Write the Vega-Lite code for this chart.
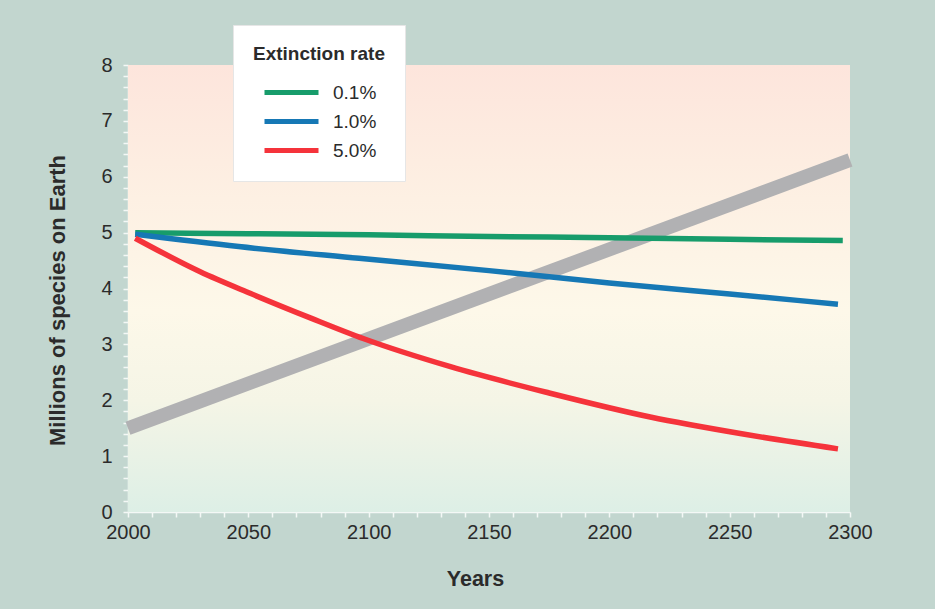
{
  "$schema": "https://vega.github.io/schema/vega-lite/v6.json",
  "width": 722,
  "height": 447,
  "autosize": {"type": "none"},
  "padding": {"left": 128, "top": 65, "right": 85, "bottom": 97},
  "background": "#c2d6cf",
  "config": {
    "view": {"stroke": null},
    "font": "Liberation Sans",
    "axis": {
      "grid": false,
      "domainColor": "#f4f8f6",
      "domainWidth": 1.5,
      "tickColor": "#f4f8f6",
      "tickWidth": 1.5,
      "tickSize": 5,
      "labelFont": "Liberation Sans",
      "labelFontSize": 20,
      "labelColor": "#2b2b2b",
      "titleFont": "Liberation Sans",
      "titleFontWeight": "bold",
      "titleColor": "#2b2b2b",
      "labelOverlap": false,
      "labelFlush": false
    }
  },
  "datasets": {
    "bg": [{"year": 2000, "year2": 2300, "species": 0, "species2": 8}],
    "gray": [{"year": 2000, "species": 1.5}, {"year": 2300, "species": 6.3}],
    "rates": [
      {"rate": "0.1%", "year": 2003, "species": 5.0},
      {"rate": "0.1%", "year": 2050, "species": 4.98},
      {"rate": "0.1%", "year": 2100, "species": 4.96},
      {"rate": "0.1%", "year": 2150, "species": 4.93},
      {"rate": "0.1%", "year": 2200, "species": 4.91},
      {"rate": "0.1%", "year": 2250, "species": 4.88},
      {"rate": "0.1%", "year": 2297, "species": 4.86},
      {"rate": "1.0%", "year": 2003, "species": 4.97},
      {"rate": "1.0%", "year": 2046, "species": 4.75},
      {"rate": "1.0%", "year": 2096, "species": 4.54},
      {"rate": "1.0%", "year": 2150, "species": 4.32},
      {"rate": "1.0%", "year": 2200, "species": 4.1},
      {"rate": "1.0%", "year": 2250, "species": 3.9},
      {"rate": "1.0%", "year": 2295, "species": 3.72},
      {"rate": "5.0%", "year": 2003, "species": 4.9},
      {"rate": "5.0%", "year": 2030, "species": 4.3},
      {"rate": "5.0%", "year": 2051, "species": 3.91},
      {"rate": "5.0%", "year": 2076, "species": 3.47},
      {"rate": "5.0%", "year": 2098, "species": 3.1},
      {"rate": "5.0%", "year": 2134, "species": 2.6},
      {"rate": "5.0%", "year": 2175, "species": 2.13},
      {"rate": "5.0%", "year": 2217, "species": 1.7},
      {"rate": "5.0%", "year": 2255, "species": 1.4},
      {"rate": "5.0%", "year": 2295, "species": 1.13}
    ]
  },
  "encoding": {
    "x": {
      "field": "year", "type": "quantitative",
      "scale": {"domain": [2000, 2300], "nice": false, "zero": false},
      "axis": {
        "title": "Years",
        "titleFontSize": 21.5,
        "titlePadding": 26,
        "titleX": 347,
        "values": [2000,2010,2020,2030,2040,2050,2060,2070,2080,2090,2100,2110,2120,2130,2140,2150,2160,2170,2180,2190,2200,2210,2220,2230,2240,2250,2260,2270,2280,2290,2300],
        "labelExpr": "datum.value % 50 === 0 ? format(datum.value, 'd') : ''",
        "labelPadding": 5
      }
    },
    "y": {
      "field": "species", "type": "quantitative",
      "scale": {"domain": [0, 8], "nice": false},
      "axis": {
        "title": "Millions of species on Earth",
        "titleFontSize": 22,
        "titlePadding": 31,
        "titleY": 235,
        "values": [0,0.2,0.4,0.6,0.8,1,1.2,1.4,1.6,1.8,2,2.2,2.4,2.6,2.8,3,3.2,3.4,3.6,3.8,4,4.2,4.4,4.6,4.8,5,5.2,5.4,5.6,5.8,6,6.2,6.4,6.6,6.8,7,7.2,7.4,7.6,7.8,8],
        "labelExpr": "abs(datum.value - round(datum.value)) < 0.001 ? format(datum.value, 'd') : ''",
        "labelPadding": 11
      }
    }
  },
  "layer": [
    {
      "data": {"name": "bg"},
      "mark": {
        "type": "rect",
        "fill": {
          "gradient": "linear",
          "x1": 0, "y1": 0, "x2": 0, "y2": 1,
          "stops": [
            {"offset": 0, "color": "#fde5dc"},
            {"offset": 0.3, "color": "#fdf0e3"},
            {"offset": 0.55, "color": "#fdf8e9"},
            {"offset": 0.75, "color": "#f5f5e6"},
            {"offset": 1, "color": "#ddefe6"}
          ]
        }
      },
      "encoding": {
        "x2": {"field": "year2"},
        "y2": {"field": "species2"}
      }
    },
    {
      "data": {"name": "gray"},
      "mark": {"type": "line", "color": "#b1b1b3", "strokeWidth": 14, "strokeCap": "butt"},
      "encoding": {}
    },
    {
      "data": {"name": "rates"},
      "mark": {"type": "line", "strokeWidth": 5.5, "strokeCap": "butt", "interpolate": "monotone"},
      "encoding": {
        "color": {
          "field": "rate", "type": "nominal",
          "scale": {"domain": ["0.1%", "1.0%", "5.0%"], "range": ["#179c6b", "#1678b5", "#f5333b"]},
          "legend": {
            "title": "Extinction rate",
            "orient": "none",
            "legendX": 105,
            "legendY": -40,
            "fillColor": "#ffffff",
            "strokeColor": "#e6e6e6",
            "padding": 20,
            "titleFont": "Liberation Sans",
            "titleFontSize": 19,
            "titleFontWeight": "bold",
            "titleColor": "#2b2b2b",
            "titlePadding": 17,
            "labelFont": "Liberation Sans",
            "labelFontSize": 19,
            "labelColor": "#2b2b2b",
            "labelOffset": 57,
            "symbolType": "M0,0L6,0",
            "symbolSize": 324,
            "symbolStrokeWidth": 5,
            "rowPadding": 7,
            "offset": 0
          }
        }
      }
    }
  ]
}
